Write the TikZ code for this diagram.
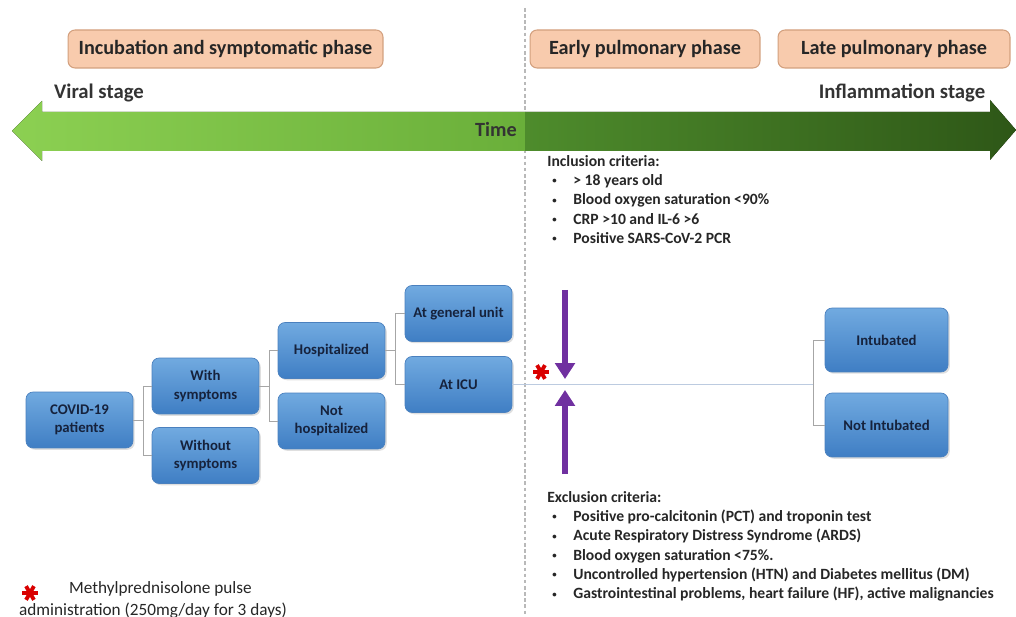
\documentclass[tikz,border=0pt]{standalone}
\usepackage{fontspec}
\setmainfont{Carlito}
\usetikzlibrary{calc,shadows,arrows.meta}

\definecolor{peach}{HTML}{F8CBAD}
\definecolor{peachline}{HTML}{D3A07E}
\definecolor{boxtop}{HTML}{71AAE0}
\definecolor{boxbot}{HTML}{3F7EC4}
\definecolor{boxline}{HTML}{4A80BE}
\definecolor{boxtext}{HTML}{16223C}
\definecolor{lightgreen}{HTML}{8CD052}
\definecolor{midgreen}{HTML}{6AAF3A}
\definecolor{shadegreen}{HTML}{4E8C2C}
\definecolor{darkgreen}{HTML}{2E5717}
\definecolor{purplearrow}{HTML}{7030A0}
\definecolor{treeline}{HTML}{A6A6A6}
\definecolor{iculine}{HTML}{BCCBE0}

\tikzset{
  phasebox/.style={draw=peachline, fill=peach, rounded corners=4pt, line width=0.6pt,
    minimum height=0.76cm, font=\fontsize{11.5}{13}\selectfont\bfseries, text=black!85},
  patientbox/.style={draw=boxline, top color=boxtop, bottom color=boxbot, rounded corners=4pt,
    minimum width=2.14cm, minimum height=1.12cm, align=center, inner sep=1pt,
    font=\fontsize{8.4}{10.5}\selectfont\bfseries, text=boxtext,
    drop shadow={opacity=0.25, shadow xshift=1pt, shadow yshift=-1pt}},
  treeedge/.style={draw=treeline, line width=0.5pt},
  criteria/.style={anchor=north west, align=left, inner sep=0pt,
    font=\fontsize{8.9}{11}\selectfont\bfseries, text=black!85},
  stagelabel/.style={font=\fontsize{11.8}{13}\selectfont\bfseries, text=black!80},
  markarrow/.style={draw=purplearrow, line width=3.2pt, -{Triangle[width=11pt,length=9pt]}},
}
\newcommand{\critem}[1]{\hspace*{0.1cm}\makebox[0.42cm][l]{\raisebox{0.25ex}{\fontsize{5}{5}\selectfont\textbullet}}#1}
\newcommand{\doseflag}[1]{\foreach \a in {0,60,120}
  \draw[red!85!black, line width=2.2pt] ($(#1)+(\a:4.5pt)$) -- ($(#1)+(\a+180:4.5pt)$);}

\begin{document}
\begin{tikzpicture}[x=0.02cm, y=-0.02cm]
		%%%%% START %%%%%
		\useasboundingbox (0, 0) rectangle (1016, 617);
		
		\draw[gray!55, line width=0.8pt, dash pattern=on 2pt off 1.5pt] (525, 8) -- (525, 617);
		
		\node[phasebox, minimum width=6.3cm] (incub) at (225.5, 49) {Incubation and symptomatic phase};
		\node[phasebox, minimum width=4.6cm] (early) at (645, 49) {Early pulmonary phase};
		\node[phasebox, minimum width=4.64cm] (late) at (894, 49) {Late pulmonary phase};
		
		\node[stagelabel] (viral) at (99, 93) {Viral stage};
		\node[stagelabel] (inflam) at (902, 93) {Inflammation stage};
		
		\fill[left color=lightgreen, right color=midgreen] (12, 131) -- (42, 101) -- (42, 112) -- (525, 112) -- (525, 151) -- (42, 151) -- (42, 161) -- cycle;
		\fill[left color=shadegreen, right color=darkgreen] (525, 112) -- (990, 112) -- (990, 100) -- (1016, 130) -- (990, 160) -- (990, 151) -- (525, 151) -- cycle;
		\node[font=\fontsize{11.5}{12}\selectfont\bfseries, text=black!80] (time) at (496, 129) {Time};
		
		\node[criteria] (incl) at (547, 155) {Inclusion criteria:\\
			\critem{> 18 years old}\\
			\critem{Blood oxygen saturation <90\%}\\
			\critem{CRP >10 and IL-6 >6}\\
			\critem{Positive SARS-CoV-2 PCR}};
		
		\node[patientbox] (covid) at (79.5, 420) {COVID-19\\patients};
		\node[patientbox] (with) at (205.5, 386) {With\\symptoms};
		\node[patientbox] (without) at (205.5, 455.5) {Without\\symptoms};
		\node[patientbox] (hosp) at (331.5, 350.5) {Hospitalized};
		\node[patientbox] (nothosp) at (331.5, 421) {Not\\hospitalized};
		\node[patientbox] (general) at (458.5, 313.5) {At general unit};
		\node[patientbox] (icu) at (458.5, 384.5) {At ICU};
		\node[patientbox, minimum width=2.46cm, minimum height=1.28cm] (intub) at (886.5, 340) {Intubated};
		\node[patientbox, minimum width=2.46cm, minimum height=1.28cm] (notintub) at (886.5, 425) {Not Intubated};
		
		\draw[treeedge] (covid.east) -- ++(10, 0) coordinate (fork1);
		\draw[treeedge] (with.west) -| (fork1) |- (without.west);
		\draw[treeedge] (with.east) -- ++(10, 0) coordinate (fork2);
		\draw[treeedge] (hosp.west) -| (fork2) |- (nothosp.west);
		\draw[treeedge] (hosp.east) -- ++(10, 0) coordinate (fork3);
		\draw[treeedge] (general.west) -| (fork3) |- (icu.west);
		\coordinate (fork4) at (813, 384.5);
		\draw[iculine, line width=0.7pt] (icu.east) -- (fork4);
		\draw[treeedge] (intub.west) -| (fork4) |- (notintub.west);
		
		\coordinate (inclfrom) at (565, 290);
		\coordinate (incltip) at (565, 379);
		\coordinate (exclfrom) at (565, 474);
		\coordinate (excltip) at (565, 390);
		\draw[markarrow] (inclfrom) -- (incltip);
		\draw[markarrow] (exclfrom) -- (excltip);
		
		\coordinate (dose) at (541, 372);
		\doseflag{dose}
		
		\node[criteria] (excl) at (547, 491) {Exclusion criteria:\\
			\critem{Positive pro-calcitonin (PCT) and troponin test}\\
			\critem{Acute Respiratory Distress Syndrome (ARDS)}\\
			\critem{Blood oxygen saturation <75\%.}\\
			\critem{Uncontrolled hypertension (HTN) and Diabetes mellitus (DM)}\\
			\critem{Gastrointestinal problems, heart failure (HF), active malignancies}};
		
		\coordinate (legendmark) at (30, 593);
		\doseflag{legendmark}
		\node[align=center, font=\fontsize{9.8}{12}\selectfont, text=black!85] (legend) at (153, 600) {\hspace*{0.3cm}Methylprednisolone pulse\\administration (250mg/day for 3 days)};
		
		%%%%% END %%%%%
	\end{tikzpicture}
\end{document}
